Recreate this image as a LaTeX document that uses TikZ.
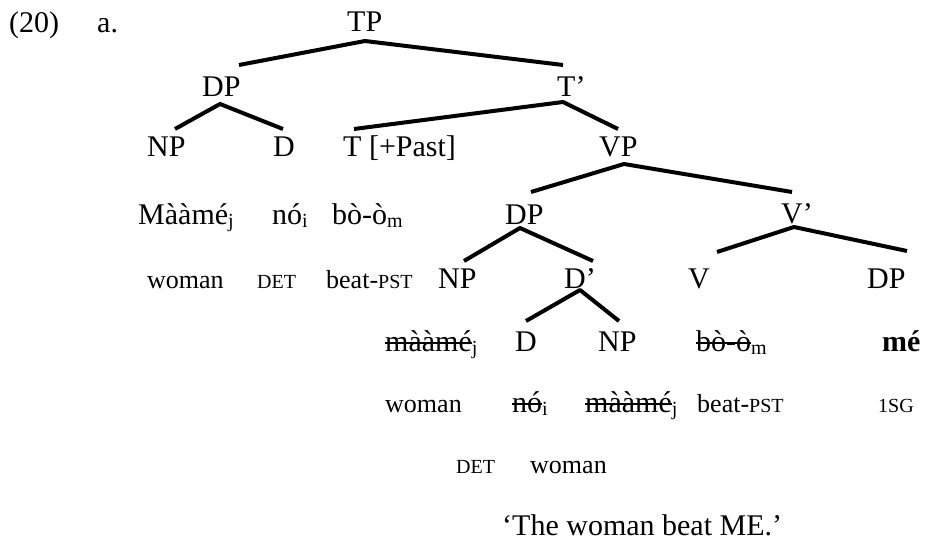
\documentclass[tikz,border=0pt]{standalone}
\usepackage{fontspec}
\setmainfont{Liberation Serif}
\newsavebox\strkbox
\newcommand\strk[1]{\sbox\strkbox{#1}\rlap{\rule[0.23em]{\wd\strkbox}{0.055em}}\usebox\strkbox}
\newcommand\subs[1]{\raisebox{-3pt}{\fontsize{20}{20}\selectfont #1}}
\newcommand\sml[1]{{\fontsize{20}{20}\selectfont #1}}
\begin{document}
\begin{tikzpicture}[x=1pt,y=-1pt,
  lab/.style={anchor=base west,inner sep=0pt,font=\fontsize{30}{30}\selectfont},
  gl/.style={anchor=base west,inner sep=0pt,font=\fontsize{26}{26}\selectfont},
  branch/.style={line width=4pt,line join=round}]
\useasboundingbox (0,0) rectangle (939,540);
% row 1
\node[lab] (num) at (9,33) {(20)};
\node[lab] (a) at (97,33) {a.};
\node[lab] (TP) at (347,32) {TP};
% row 2
\node[lab] (DP1) at (202,97) {DP};
\node[lab] (Tbar) at (557,97) {T’};
% row 3
\node[lab] (NP1) at (147,157) {NP};
\node[lab] (D1) at (273,157) {D};
\node[lab] (T) at (343,157) {T [+Past]};
\node[lab] (VP) at (599,157) {VP};
% row 4
\node[lab] (w1) at (138,224) {Mààmé\subs{j}};
\node[lab] (w2) at (272,224) {nó\subs{i}};
\node[lab] (w3) at (332,224) {bò-ò\subs{m}};
\node[lab] (DP2) at (505,224) {DP};
\node[lab] (Vbar) at (781,223) {V’};
% row 5
\node[gl] (g1) at (147,288) {woman};
\node[gl] (g2) at (257,288) {\sml{DET}};
\node[gl] (g3) at (326,288) {beat-\sml{PST}};
\node[lab] (NP2) at (438,288) {NP};
\node[lab] (Dbar) at (564,288) {D’};
\node[lab] (V) at (688,288) {V};
\node[lab] (DP3) at (867,288) {DP};
% row 6
\node[lab] (w4) at (385,351) {\strk{mààmé}\subs{j}};
\node[lab] (D2) at (515,351) {D};
\node[lab] (NP3) at (598,351) {NP};
\node[lab] (w5) at (696,351) {\strk{bò-ò}\subs{m}};
\node[lab] (w6) at (882,351) {\bfseries mé};
% row 7
\node[gl] (g4) at (385,412) {woman};
\node[lab] (w7) at (512,412) {\strk{nó}\subs{i}};
\node[lab] (w8) at (585,412) {\strk{mààmé}\subs{j}};
\node[gl] (g5) at (697,412) {beat-\sml{PST}};
\node[gl] (g6) at (878,412) {\sml{1SG}};
% row 8
\node[gl] (g7) at (456,473) {\sml{DET}};
\node[gl] (g8) at (530,473) {woman};
% row 9
\node[lab] (tr) at (502,535) {‘The woman beat ME.’};
% branch points
\coordinate (TPa) at (365,41);  \coordinate (TPl) at (239,65);  \coordinate (TPr) at (563,65);
\coordinate (DPa) at (220,104); \coordinate (DPl) at (175,129); \coordinate (DPr) at (283,129);
\coordinate (Ta)  at (563,102); \coordinate (Tl)  at (354,129); \coordinate (Tr)  at (618,129);
\coordinate (VPa) at (624,164); \coordinate (VPl) at (531,192); \coordinate (VPr) at (792,192);
\coordinate (Da)  at (520,228); \coordinate (Dl)  at (464,261); \coordinate (Dr)  at (593,261);
\coordinate (Va)  at (794,227); \coordinate (Vl)  at (717,252); \coordinate (Vr)  at (907,251);
\coordinate (Ba)  at (580,290); \coordinate (Bl)  at (526,321); \coordinate (Br)  at (619,321);
\draw[branch] (TPl) -- (TPa) -- (TPr);
\draw[branch] (DPl) -- (DPa) -- (DPr);
\draw[branch] (Tl) -- (Ta) -- (Tr);
\draw[branch] (VPl) -- (VPa) -- (VPr);
\draw[branch] (Dl) -- (Da) -- (Dr);
\draw[branch] (Vl) -- (Va) -- (Vr);
\draw[branch] (Bl) -- (Ba) -- (Br);
\end{tikzpicture}
\end{document}
